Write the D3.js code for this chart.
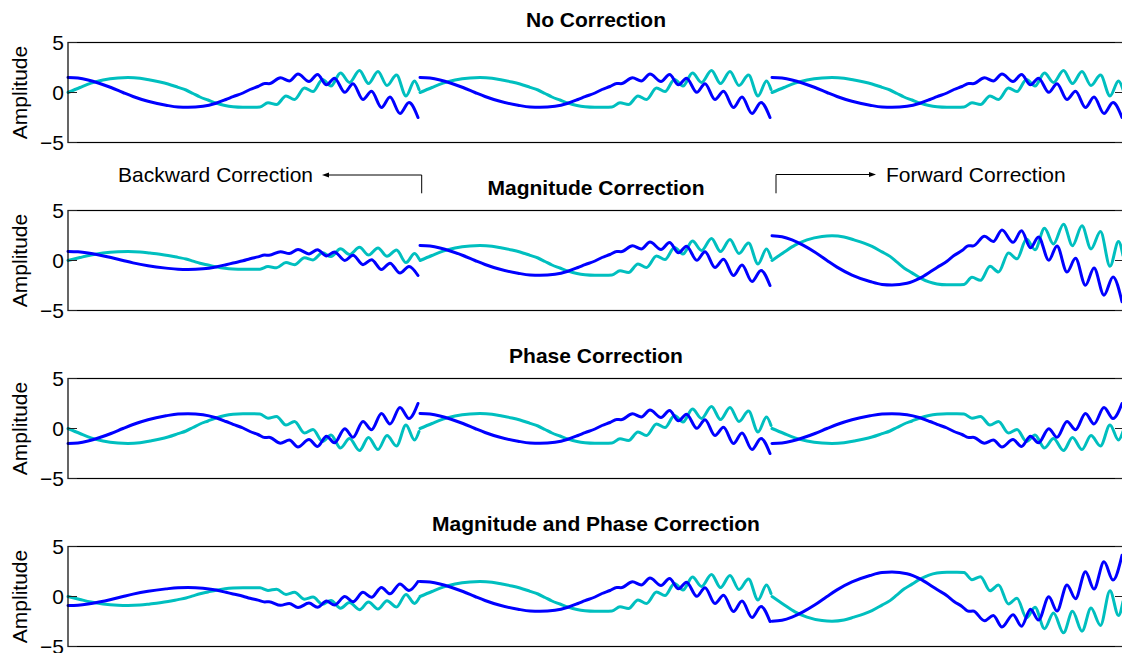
<!DOCTYPE html>
<html>
<head>
<meta charset="utf-8">
<script src="https://cdn.jsdelivr.net/npm/d3@7"></script>
<style>
  html, body { margin: 0; padding: 0; background: #fff; }
  svg { display: block; font-family: "Liberation Sans", Arial, Helvetica, sans-serif; }
</style>
</head>
<body>
<svg id="chart" width="1122" height="653"></svg>
<script>
// One block of the signal; each panel shows it three times side by side
const blockLength = 352;
const blockCount = 3;

// Real part (blue): sample index within the block and amplitude
const realSamples = [0, 10, 20, 31, 43, 55, 65, 80, 98, 110, 120, 135, 148, 158, 165, 175, 182, 190,
  196.7, 201, 212.5, 221.3, 230, 241, 249.5, 258.5, 266.5, 276.8, 285, 295, 303.5, 313.5, 322, 332, 341, 350];
const realValues = [1.5, 1.44, 1.25, 0.93, 0.5, 0.0, -0.4, -0.88, -1.27, -1.45, -1.48, -1.38, -1.07, -0.7, -0.42, -0.05, 0.3, 0.6,
  0.9, 0.88, 1.47, 1.15, 1.85, 1.1, 1.8, 0.77, 1.43, 0.02, 0.88, -0.7, 0.13, -1.5, -0.45, -2.1, -1.0, -2.5];

// Imaginary part (cyan): sample index within the block and amplitude
const imagSamples = [0, 12, 23, 35, 50, 60, 72, 82, 92, 100, 110, 118, 125, 132, 140, 148, 157, 165, 175, 185, 192,
  200, 208.5, 218, 226.5, 236.5, 245, 254.5, 263, 272.5, 281.5, 291.5, 300.5, 310, 319, 328.5, 338, 346.5, 351];
const imagValues = [0, 0.5, 0.93, 1.25, 1.46, 1.5, 1.43, 1.25, 1.05, 0.85, 0.52, 0.25, -0.1, -0.45, -0.75, -1.05, -1.3, -1.42, -1.47, -1.47, -1.45,
  -1.02, -1.2, -0.35, -0.7, 0.45, 0.1, 1.3, 0.65, 1.95, 1.0, 2.2, 0.9, 2.1, 0.7, 1.75, -0.35, 1.15, 0.3];

const panelTitles = ["No Correction", "Magnitude Correction", "Phase Correction", "Magnitude and Phase Correction"];
// Complex gain of the left, centre and right block in each panel (real-valued here)
const blockGains = [
  [1, 1, 1],
  [0.6, 1, 1.65],
  [-1, 1, -1],
  [-0.6, 1, -1.65]
];
const yTicks = [-5, 0, 5];
const yTickLabels = ["\u22125", "0", "5"];
const yLabel = "Amplitude";

// Layout
const axLeft = 68, axRight = 1124;
const panelTop0 = 42.5, panelPitch = 168, panelHeight = 100;
const tickLen = 9;
const fontSize = 21;
const blueColor = "#0000ff", cyanColor = "#00bfbf";

const svg = d3.select("#chart");

const x = d3.scaleLinear().domain([0, blockLength * blockCount]).range([axLeft, axRight]);

const line = d3.line()
  .x(d => x(d.t))
  .y(d => d.yScale(d.v))
  .curve(d3.curveMonotoneX);

panelTitles.forEach((title, p) => {
  const top = panelTop0 + p * panelPitch;
  const y = d3.scaleLinear().domain([-5, 5]).range([top + panelHeight, top]);
  const g = svg.append("g");

  // title
  g.append("text")
    .attr("x", (axLeft + axRight) / 2)
    .attr("y", top - 16)
    .attr("text-anchor", "middle")
    .attr("font-size", fontSize)
    .attr("font-weight", "bold")
    .text(title);

  // y label
  g.append("text")
    .attr("transform", `translate(27,${top + panelHeight / 2}) rotate(-90)`)
    .attr("text-anchor", "middle")
    .attr("font-size", fontSize)
    .text(yLabel);

  // signal blocks: cyan underneath, blue on top
  [[imagSamples, imagValues, cyanColor], [realSamples, realValues, blueColor]].forEach(([ts, vs, color]) => {
    for (let b = 0; b < blockCount; b++) {
      const gain = blockGains[p][b];
      const pts = ts.map((t, i) => ({ t: b * blockLength + t, v: gain * vs[i], yScale: y }));
      g.append("path")
        .attr("d", line(pts))
        .attr("fill", "none")
        .attr("stroke", color)
        .attr("stroke-width", 3)
        .attr("stroke-linejoin", "round")
        .attr("stroke-linecap", "round");
    }
  });

  // frame
  g.append("rect")
    .attr("x", axLeft).attr("y", top)
    .attr("width", axRight - axLeft).attr("height", panelHeight)
    .attr("fill", "none").attr("stroke", "#000").attr("stroke-width", 1.2);

  // y ticks on both sides, pointing inward
  yTicks.forEach((v, i) => {
    const yy = y(v);
    g.append("line").attr("x1", axLeft).attr("x2", axLeft + tickLen).attr("y1", yy).attr("y2", yy)
      .attr("stroke", "#222").attr("stroke-width", 1);
    g.append("line").attr("x1", axRight - tickLen).attr("x2", axRight).attr("y1", yy).attr("y2", yy)
      .attr("stroke", "#222").attr("stroke-width", 1);
    g.append("text")
      .attr("x", axLeft - 4)
      .attr("y", yy + 7.5)
      .attr("text-anchor", "end")
      .attr("font-size", fontSize)
      .text(yTickLabels[i]);
  });
});

// Direction annotations between the first and second panels
const ann = svg.append("g").attr("stroke", "#000").attr("stroke-width", 1).attr("fill", "none");
ann.append("path").attr("d", "M421.7,193.3 V175 H328");
ann.append("path").attr("d", "M776,193.3 V174.5 H870");
svg.append("path").attr("d", "M322,175 L329,172.6 L329,177.4 Z").attr("fill", "#000");
svg.append("path").attr("d", "M876,174.5 L869,172.1 L869,176.9 Z").attr("fill", "#000");

svg.append("text")
  .attr("x", 313).attr("y", 182)
  .attr("text-anchor", "end")
  .attr("font-size", fontSize)
  .text("Backward Correction");
svg.append("text")
  .attr("x", 886).attr("y", 182)
  .attr("text-anchor", "start")
  .attr("font-size", fontSize)
  .text("Forward Correction");
</script>
</body>
</html>
